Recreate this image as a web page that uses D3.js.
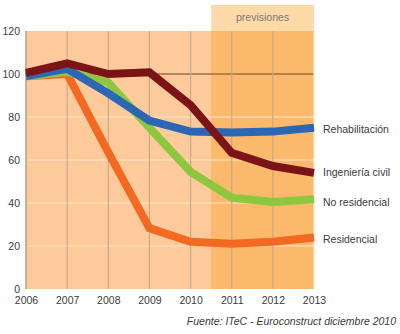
<!DOCTYPE html>
<html>
<head>
<meta charset="utf-8">
<script src="https://cdn.jsdelivr.net/npm/d3@7"></script>
<style>
  body { margin: 0; background: #fff; }
  svg text { font-family: "Liberation Sans", Arial, sans-serif; }
</style>
</head>
<body>
<div id="chart"></div>
<script>
var years = [2006, 2007, 2008, 2009, 2010, 2011, 2012, 2013];
var y_ticks = [0, 20, 40, 60, 80, 100, 120];
var residencial = [99, 100, 63.5, 28.3, 22, 21, 22, 24];
var no_residencial = [99, 101, 96, 75, 54.5, 42.5, 40.5, 41.7];
var rehabilitacion = [99, 102.4, 91, 78.3, 73.2, 72.8, 73.2, 75];
var ingenieria_civil = [100.5, 105, 100, 100.8, 85.5, 63.3, 57.2, 54];
var series_names = ["Residencial", "No residencial", "Rehabilitación", "Ingeniería civil"];
var forecast_start = 2010.5;
var source_text = "Fuente: ITeC - Euroconstruct diciembre 2010";

var width_chart = 400;
var height_chart = 334;

var series_chart = [
  {name: series_names[0], values: residencial, color: "#f26a21"},
  {name: series_names[1], values: no_residencial, color: "#8dc63f"},
  {name: series_names[2], values: rehabilitacion, color: "#2c67b6"},
  {name: series_names[3], values: ingenieria_civil, color: "#7a1416"}
];

var x_chart = d3.scaleLinear().domain([2006, 2013]).range([26, 314]);
var y_chart = d3.scaleLinear().domain([0, 120]).range([289, 31]);

var svg_chart = d3.select("#chart").append("svg")
  .attr("width", width_chart)
  .attr("height", height_chart);

// plot background
svg_chart.append("rect")
  .attr("x", x_chart(2006)).attr("y", y_chart(120))
  .attr("width", x_chart(2013) - x_chart(2006))
  .attr("height", y_chart(0) - y_chart(120))
  .attr("fill", "#fdcb9b");

// forecast band + header
svg_chart.append("rect")
  .attr("x", x_chart(forecast_start)).attr("y", y_chart(120))
  .attr("width", x_chart(2013) - x_chart(forecast_start))
  .attr("height", y_chart(0) - y_chart(120))
  .attr("fill", "#fbb96b");
svg_chart.append("rect")
  .attr("x", x_chart(forecast_start)).attr("y", 5)
  .attr("width", x_chart(2013) - x_chart(forecast_start))
  .attr("height", y_chart(120) - 5)
  .attr("fill", "#fedaa9");
svg_chart.append("text")
  .attr("x", (x_chart(forecast_start) + x_chart(2013))/2)
  .attr("y", 21)
  .attr("text-anchor", "middle")
  .attr("font-size", "10.5px")
  .attr("fill", "#777")
  .text("previsiones");

// horizontal grid
svg_chart.append("g").selectAll("line")
  .data(y_ticks.filter(function (d) { return d > 0 && d < 120; }))
  .enter().append("line")
  .attr("x1", x_chart(2006)).attr("x2", x_chart(2013))
  .attr("y1", function (d) { return y_chart(d); })
  .attr("y2", function (d) { return y_chart(d); })
  .attr("stroke", function (d) { return d === 100 ? "#9a7048" : "#fde6cc"; })
  .attr("stroke-width", function (d) { return d === 100 ? 1.3 : 1.2; });

// vertical grid
svg_chart.append("g").selectAll("line")
  .data(years)
  .enter().append("line")
  .attr("x1", function (d) { return x_chart(d); })
  .attr("x2", function (d) { return x_chart(d); })
  .attr("y1", y_chart(120)).attr("y2", y_chart(0))
  .attr("stroke", function (d) { return d === 2006 ? "#b89c84" : (d === 2013 ? "#fde6cc" : "#c9a98a"); })
  .attr("stroke-width", function (d) { return d === 2006 ? 1.5 : 1.2; });

// axes
var y_axis = svg_chart.append("g")
  .attr("transform", "translate(20,0)")
  .call(d3.axisLeft(y_chart).tickValues(y_ticks).tickSize(0).tickPadding(0));
var x_axis = svg_chart.append("g")
  .attr("transform", "translate(0," + (y_chart(0) + 6) + ")")
  .call(d3.axisBottom(x_chart).tickValues(years).tickSize(0).tickPadding(0).tickFormat(d3.format("d")));
[y_axis, x_axis].forEach(function (a) {
  a.select(".domain").remove();
  a.selectAll("text").attr("font-size", "10.5px").attr("fill", "#3a3a3a")
    .style("font-family", "'Liberation Sans', Arial, sans-serif");
});
y_axis.selectAll("text").attr("dy", "0.35em");
x_axis.selectAll("text").attr("dy", "0.9em");

// lines
var line_chart = d3.line()
  .x(function (d, i) { return x_chart(years[i]); })
  .y(function (d) { return y_chart(d); });

svg_chart.append("g").selectAll("path")
  .data(series_chart)
  .enter().append("path")
  .attr("d", function (d) { return line_chart(d.values); })
  .attr("fill", "none")
  .attr("stroke", function (d) { return d.color; })
  .attr("stroke-width", 8)
  .attr("stroke-linejoin", "miter");

// series labels
var label_y = {"Rehabilitación": 129, "Ingeniería civil": 172, "No residencial": 202, "Residencial": 239};
svg_chart.append("g").selectAll("text")
  .data(series_chart)
  .enter().append("text")
  .attr("x", 323)
  .attr("y", function (d) { return label_y[d.name] + 4; })
  .attr("font-size", "10.5px")
  .attr("fill", "#3a3a3a")
  .text(function (d) { return d.name; });

// source
svg_chart.append("text")
  .attr("x", 396).attr("y", 325)
  .attr("text-anchor", "end")
  .attr("font-size", "10.5px")
  .attr("font-style", "italic")
  .attr("fill", "#3a3a3a")
  .text(source_text);
</script>
</body>
</html>
